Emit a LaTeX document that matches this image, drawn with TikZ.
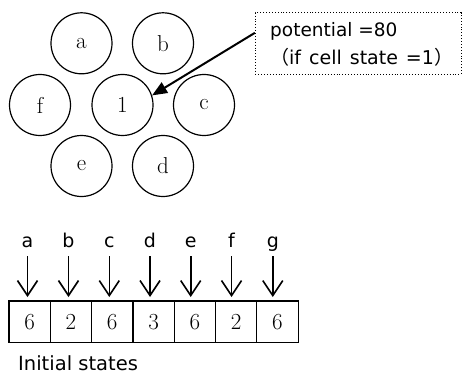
\documentclass[tikz,border=0pt]{standalone}
\usepackage{fontspec}
\usetikzlibrary{arrows.meta,calc}
\newfontfamily\gsans{DejaVu Sans}
\newfontfamily\cjk{Noto Sans CJK JP}
\tikzset{
  cell/.style={circle,draw,line width=1.2pt,minimum size=61pt,inner sep=0pt,font=\fontsize{23}{23}\selectfont},
  statebox/.style={rectangle,draw,line width=1.2pt,minimum width=41.3pt,minimum height=41.7pt,inner sep=0pt,font=\fontsize{23}{23}\selectfont},
  lab/.style={inner sep=0pt,font=\gsans\fontsize{19}{19}\selectfont},
  downarrow/.style={-{Straight Barb[length=15pt,width=20pt]},line width=1.6pt},
  pointer/.style={-{Triangle[length=15pt,width=12pt]},line width=2pt},
  note/.style={rectangle,draw,dotted,line width=0.9pt,minimum width=205.7pt,minimum height=61.3pt,inner sep=0pt}
}
\begin{document}
\begin{tikzpicture}[x=1pt,y=-1pt]
\useasboundingbox (0,0) rectangle (462,374);
% hexagonal cells
\node[cell] (a) at (81.5,43.3) {a};
\node[cell] (b) at (163,43.3) {b};
\node[cell] (f) at (40,105) {f};
\node[cell] (c1) at (122.5,105) {1};
\node[cell] (c) at (204,105) {c};
\node[cell] (e) at (81.5,166) {e};
\node[cell] (d) at (163,166) {d};
% note box
\node[note] (box) at (358.2,43.4) {};
\node[anchor=west,align=left,inner sep=0pt,font=\gsans\fontsize{18.5}{28}\selectfont] (txt) at (270,44) {potential =80\\{\fontsize{19}{28}\selectfont\spaceskip=8pt\relax{\cjk （}if cell state =1{\cjk ）}}};
\coordinate (ps) at ($(box.north west)!0.33!(box.south west)$);
\draw[pointer] (ps) -- (c1.18);
% state array
\foreach \v [count=\i] in {6,2,6,3,6,2,6} {
  \node[statebox] (s\i) at ({9+41.3*(\i-0.5)},321.9) {\v};
}
\foreach \l/\x [count=\i] in {a/27.5,b/68.5,c/109.3,d/150,e/190.7,f/231.5,g/272.8} {
  \node[lab,anchor=base] (l\i) at (\x,247) {\l};
  \draw[downarrow] (l\i.base |- 0,256) -- (l\i.base |- 0,297);
}
\node[lab,anchor=west,font=\gsans\fontsize{19.5}{19.5}\selectfont] (init) at (18,363) {Initial states};
\end{tikzpicture}
\end{document}
